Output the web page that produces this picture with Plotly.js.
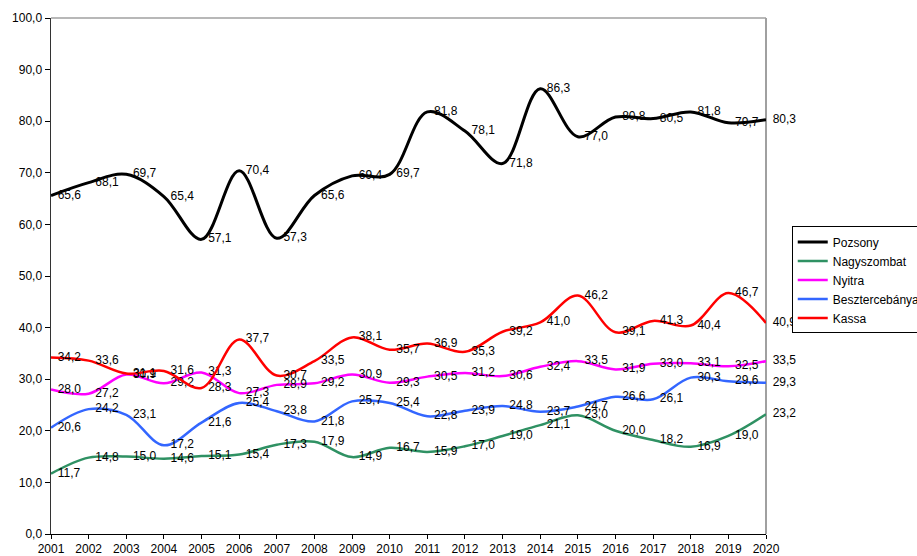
<!DOCTYPE html>
<html>
<head>
<meta charset="utf-8">
<script src="https://cdn.plot.ly/plotly-3.0.1.min.js"></script>
<style>html,body{margin:0;padding:0;background:#fff;}#chart{width:917px;height:556px;}</style>
</head>
<body>
<div id="chart"></div>
<script>
const years = [2001,2002,2003,2004,2005,2006,2007,2008,2009,2010,2011,2012,2013,2014,2015,2016,2017,2018,2019,2020];
const pozsony = [65.6,68.1,69.7,65.4,57.1,70.4,57.3,65.6,69.4,69.7,81.8,78.1,71.8,86.3,77.0,80.8,80.5,81.8,79.7,80.3];
const nagyszombat = [11.7,14.8,15.0,14.6,15.1,15.4,17.3,17.9,14.9,16.7,15.9,17.0,19.0,21.1,23.0,20.0,18.2,16.9,19.0,23.2];
const nyitra = [28.0,27.2,30.9,29.2,31.3,27.3,28.9,29.2,30.9,29.3,30.5,31.2,30.6,32.4,33.5,31.9,33.0,33.1,32.5,33.5];
const besztercebanya = [20.6,24.2,23.1,17.2,21.6,25.4,23.8,21.8,25.7,25.4,22.8,23.9,24.8,23.7,24.7,26.6,26.1,30.3,29.6,29.3];
const kassa = [34.2,33.6,31.1,31.6,28.3,37.7,30.7,33.5,38.1,35.7,36.9,35.3,39.2,41.0,46.2,39.1,41.3,40.4,46.7,40.9];
const seriesNames = ['Pozsony','Nagyszombat','Nyitra','Besztercebánya','Kassa'];
const seriesData = [pozsony, nagyszombat, nyitra, besztercebanya, kassa];
const colors = ['#000000','#2f9163','#ff00ff','#3366ff','#ff0000'];
const widths = [3,2.5,2.5,2.5,2.5];

const traces = seriesData.map((vals, i) => ({
  type: 'scatter',
  mode: 'lines+text',
  name: seriesNames[i],
  x: years,
  y: vals,
  text: vals.map(v => '  ' + v.toFixed(1).replace('.', ',')),
  textposition: 'middle right',
  textfont: {family: 'Liberation Sans, Arial, sans-serif', size: 12, color: '#000'},
  line: {color: colors[i], width: widths[i], shape: 'spline', smoothing: 1},
  cliponaxis: false,
  hoverinfo: 'x+y'
}));

const layout = {
  width: 917, height: 556,
  margin: {l: 51, r: 151, t: 18, b: 22, autoexpand: false},
  paper_bgcolor: '#fff', plot_bgcolor: '#fff',
  separators: ', ',
  font: {family: 'Liberation Sans, Arial, sans-serif', size: 12, color: '#000'},
  showlegend: true,
  xaxis: {
    range: [2001, 2020], dtick: 1, tick0: 2001, showgrid: false, zeroline: false,
    showline: true, linecolor: '#000', linewidth: 1,
    ticks: 'outside', ticklen: 4, tickcolor: '#000', tickwidth: 1,
    tickfont: {size: 12}
  },
  yaxis: {
    range: [0, 100], dtick: 10, tick0: 0, showgrid: false, zeroline: false,
    showline: true, linecolor: '#333', linewidth: 1.5,
    ticks: 'outside', ticklen: 5, tickcolor: '#000', tickwidth: 1,
    tickformat: '.1f', tickfont: {size: 12}
  },
  shapes: [
    {type: 'line', xref: 'paper', yref: 'paper', x0: 0, x1: 1, y0: 1, y1: 1, line: {color: '#a0a0a0', width: 1.5}, layer: 'below'},
    {type: 'line', xref: 'paper', yref: 'paper', x0: 1, x1: 1, y0: 0, y1: 1, line: {color: '#a0a0a0', width: 2}, layer: 'below'}
  ],
  legend: {
    x: 1.036, y: 0.596, xanchor: 'left', yanchor: 'top',
    bordercolor: '#000', borderwidth: 1, bgcolor: '#fff',
    font: {size: 12}, itemwidth: 30, tracegroupgap: 0
  }
};

Plotly.newPlot('chart', traces, layout, {displayModeBar: false, staticPlot: true});
</script>
</body>
</html>
